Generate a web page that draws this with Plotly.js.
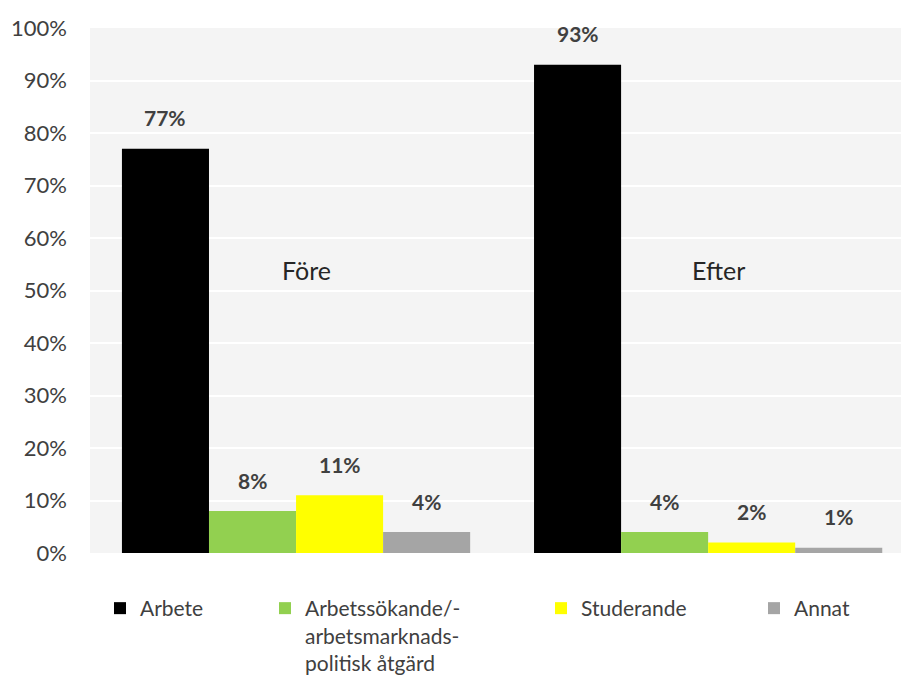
<!DOCTYPE html>
<html>
<head>
<meta charset="utf-8">
<script src="https://cdn.plot.ly/plotly-3.0.1.min.js"></script>
<style>html,body{margin:0;padding:0;background:#fff;}#chart{width:901px;height:679px;}</style>
</head>
<body>
<div id="chart"></div>
<script>
const categories = ['Före', 'Efter'];
const seriesNames = ['Arbete', 'Arbetssökande/-<br>arbetsmarknads-<br>politisk åtgärd', 'Studerande', 'Annat'];
const arbete = [0.77, 0.93];
const arbetssokande = [0.08, 0.04];
const studerande = [0.11, 0.02];
const annat = [0.04, 0.01];
const yTickVals = [0, 0.1, 0.2, 0.3, 0.4, 0.5, 0.6, 0.7, 0.8, 0.9, 1.0];
const yTickText = ['0%', '10%', '20%', '30%', '40%', '50%', '60%', '70%', '80%', '90%', '100%'];

const seriesValues = [arbete, arbetssokande, studerande, annat];
const colors = ['#000000', '#92d050', '#ffff00', '#a5a5a5'];
const legendIds = ['legend', 'legend2', 'legend3', 'legend4'];
const legendX = [100, 265, 541, 754];

const FONT = 'Lato, "Open Sans", sans-serif';
const bargap = 0.155;
const nSeries = seriesValues.length;
const barW = (1 - bargap) / nSeries;

const traces = seriesValues.map((vals, i) => ({
  type: 'bar',
  name: seriesNames[i],
  x: categories.map((c, j) => j),
  y: vals,
  marker: {color: colors[i], line: {width: 0}},
  legend: legendIds[i],
  hoverinfo: 'skip'
}));

const annotations = [];
seriesValues.forEach((vals, i) => {
  vals.forEach((v, j) => {
    annotations.push({
      x: j + (i - (nSeries - 1) / 2) * barW,
      y: v,
      xref: 'x', yref: 'y',
      text: '<b>' + Math.round(v * 100) + '%</b>',
      showarrow: false,
      yanchor: 'middle',
      yshift: 31,
      font: {family: FONT, size: 21, color: '#404040'}
    });
  });
});
categories.forEach((c, j) => {
  annotations.push({
    x: j, y: 0.54, xref: 'x', yref: 'y',
    text: c, showarrow: false, xshift: 10,
    font: {family: FONT, size: 25, color: '#262626'}
  });
});

const layout = {
  width: 901, height: 679,
  margin: {l: 90, r: 0, t: 28, b: 126, pad: 0, autoexpand: false},
  paper_bgcolor: '#ffffff',
  plot_bgcolor: '#f4f4f4',
  barmode: 'group',
  bargap: bargap,
  bargroupgap: 0,
  font: {family: FONT, size: 21, color: '#404040'},
  xaxis: {
    type: 'linear',
    range: [-0.5, 1.468],
    showticklabels: false,
    showgrid: false,
    zeroline: false,
    showline: false,
    ticks: '',
    automargin: false
  },
  yaxis: {
    range: [0, 1],
    tickvals: yTickVals,
    ticktext: yTickText,
    showgrid: true,
    gridcolor: '#ffffff',
    gridwidth: 2,
    zeroline: false,
    showline: false,
    ticks: '',
    automargin: false,
    ticklabelstandoff: 22,
    tickfont: {family: FONT, size: 22, color: '#404040'}
  },
  annotations: annotations,
  showlegend: true
};
legendIds.forEach((id, i) => {
  layout[id] = {
    xref: 'container', yref: 'container',
    x: legendX[i] / 901, y: 1 - 588 / 679,
    xanchor: 'left', yanchor: 'top',
    orientation: 'v',
    valign: 'top',
    bgcolor: 'rgba(0,0,0,0)',
    font: {family: FONT, size: 21, color: '#404040'}
  };
});

Plotly.newPlot('chart', traces, layout, {displayModeBar: false, staticPlot: true});
</script>
</body>
</html>
